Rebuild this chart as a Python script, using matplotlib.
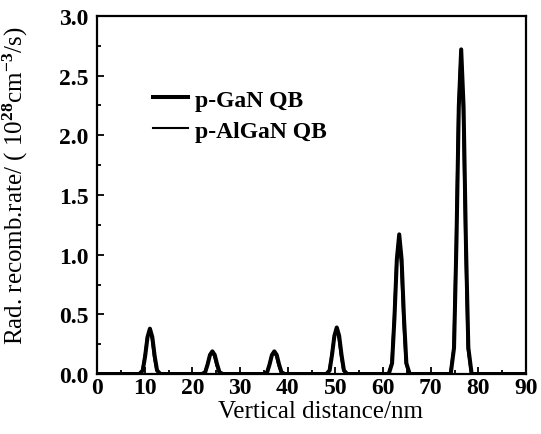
import matplotlib
matplotlib.use("Agg")
import matplotlib.pyplot as plt
from matplotlib.ticker import MultipleLocator

plt.rcParams['font.family'] = ['Liberation Serif', 'DejaVu Serif']
plt.rcParams['font.weight'] = 'bold'
plt.rcParams['mathtext.fontset'] = 'custom'
plt.rcParams['mathtext.rm'] = 'Liberation Serif:bold'
plt.rcParams['mathtext.it'] = 'Liberation Serif:bold'
plt.rcParams['mathtext.bf'] = 'Liberation Serif:bold'

# radiative recombination rate along the growth direction
gan_x = [0.0,
         8.9, 9.6, 10.1, 10.6, 11.1, 11.6, 12.1, 12.6, 13.3,
         22.0, 22.7, 23.2, 23.7, 24.2, 24.7, 25.2, 25.7, 26.4,
         35.0, 35.7, 36.2, 36.7, 37.2, 37.7, 38.2, 38.7, 39.4,
         48.1, 48.8, 49.3, 49.8, 50.3, 50.8, 51.3, 51.8, 52.5,
         61.2, 61.9, 62.4, 62.9, 63.4, 63.9, 64.4, 64.9, 65.6,
         74.2, 74.9, 75.4, 75.9, 76.4, 76.9, 77.4, 77.9, 78.6,
         90.0]
gan_y = [0.0,
         0.0, 0.03, 0.15, 0.31, 0.38, 0.31, 0.15, 0.03, 0.0,
         0.0, 0.015, 0.08, 0.16, 0.19, 0.16, 0.08, 0.015, 0.0,
         0.0, 0.015, 0.08, 0.16, 0.19, 0.16, 0.08, 0.015, 0.0,
         0.0, 0.03, 0.16, 0.32, 0.39, 0.32, 0.16, 0.03, 0.0,
         0.0, 0.09, 0.47, 0.96, 1.17, 0.96, 0.47, 0.09, 0.0,
         0.0, 0.22, 1.09, 2.24, 2.72, 2.24, 1.09, 0.22, 0.0,
         0.0]

algan_x = [0.0,
           8.75, 9.45, 9.95, 10.45, 10.95, 11.45, 11.95, 12.45, 13.15,
           21.85, 22.55, 23.05, 23.55, 24.05, 24.55, 25.05, 25.55, 26.25,
           34.85, 35.55, 36.05, 36.55, 37.05, 37.55, 38.05, 38.55, 39.25,
           47.95, 48.65, 49.15, 49.65, 50.15, 50.65, 51.15, 51.65, 52.35,
           61.05, 61.75, 62.25, 62.75, 63.25, 63.75, 64.25, 64.75, 65.45,
           74.05, 74.75, 75.25, 75.75, 76.25, 76.75, 77.25, 77.75, 78.45,
           90.0]
algan_y = [0.0,
           0.0, 0.03, 0.14, 0.30, 0.36, 0.30, 0.14, 0.03, 0.0,
           0.0, 0.014, 0.07, 0.15, 0.18, 0.15, 0.07, 0.014, 0.0,
           0.0, 0.014, 0.07, 0.15, 0.18, 0.15, 0.07, 0.014, 0.0,
           0.0, 0.03, 0.15, 0.30, 0.37, 0.30, 0.15, 0.03, 0.0,
           0.0, 0.09, 0.45, 0.93, 1.13, 0.93, 0.45, 0.09, 0.0,
           0.0, 0.21, 1.07, 2.20, 2.68, 2.20, 1.07, 0.21, 0.0,
           0.0]

x_ticks = [0, 10, 20, 30, 40, 50, 60, 70, 80, 90]
y_ticks = [0.0, 0.5, 1.0, 1.5, 2.0, 2.5, 3.0]

fig = plt.figure(figsize=(5.41, 4.35), dpi=100)
ax = fig.add_axes([0.1793, 0.1379, 0.7930, 0.8231])

ax.plot(gan_x, gan_y, color='black', linewidth=2.9, label='p-GaN QB')
ax.plot(algan_x, algan_y, color='black', linewidth=1.5, label='p-AlGaN QB')

ax.set_xlim(0, 90)
ax.set_ylim(0, 3.0)
ax.set_xticks(x_ticks)
ax.set_yticks(y_ticks)
ax.set_yticklabels([f"{v:.1f}" for v in y_ticks])
ax.xaxis.set_minor_locator(MultipleLocator(5))
ax.yaxis.set_minor_locator(MultipleLocator(0.25))
ax.tick_params(which='both', direction='in', top=False, right=False,
               labelsize=17, width=1.3)
ax.tick_params(axis='x', which='major', length=5, pad=2)
ax.tick_params(axis='y', which='major', length=5, pad=6)
ax.tick_params(which='minor', length=3)
for s in ax.spines.values():
    s.set_linewidth(1.6)

ax.set_xlabel('Vertical distance/nm', fontsize=18)
ax.set_ylabel(r'Rad. recomb.rate/ ( 10$^{28}$cm$^{-3}$/s)', fontsize=18)
ax.xaxis.set_label_coords(0.522, -0.072)
ax.yaxis.set_label_coords(-0.157, 0.53)

ax.legend(loc='upper left', bbox_to_anchor=(0.08, 0.855), frameon=False,
          fontsize=17, handlelength=1.5, handletextpad=0.3, labelspacing=0.4)

fig.savefig('out.png', dpi=100)
